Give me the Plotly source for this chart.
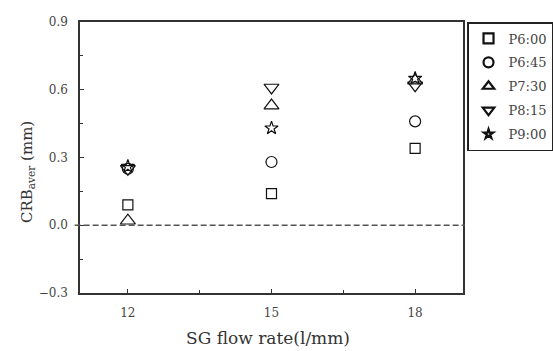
import plotly.graph_objects as go

# SG flow rate (l/mm) and average CRB (mm) for each time point
flow_rate = [12, 15, 18]
series_names = ["P6:00", "P6:45", "P7:30", "P8:15", "P9:00"]
p600 = [0.09, 0.14, 0.34]
p645 = [0.25, 0.28, 0.46]
p730 = [0.02, 0.53, 0.64]
p815 = [0.25, 0.61, 0.62]
p900 = [0.26, 0.43, 0.65]
series_values = [p600, p645, p730, p815, p900]
symbols = ["square-open", "circle-open", "triangle-up-open", "triangle-down-open", "star-open"]
sizes = [10, 11, 13, 13, 10]
legend_sizes = [10, 10, 10, 10, 7]

FONT = "DejaVu Serif"

fig = go.Figure()
for i, (name, vals, sym, sz, lsz) in enumerate(zip(series_names, series_values, symbols, sizes, legend_sizes)):
    fig.add_trace(go.Scatter(
        x=flow_rate, y=vals, mode="markers", name=name, showlegend=False,
        marker=dict(symbol=sym, size=sz, color="#111", line=dict(width=1.2, color="#111")),
    ))
    # legend entry with a heavier outline
    fig.add_trace(go.Scatter(
        x=[None], y=[None], mode="markers", name=name, legendgroup=f"g{i}",
        marker=dict(symbol=sym, size=lsz, color="#111", line=dict(width=2.2, color="#111")),
    ))

# zero reference line
fig.add_shape(type="line", xref="paper", yref="y", x0=-0.014, x1=1.005, y0=0, y1=0,
              line=dict(color="#555", width=1.5, dash="6px,3px"))

axis_common = dict(
    showline=True, linecolor="#333", linewidth=1.5, mirror=True,
    ticks="inside", ticklen=4, tickcolor="#333", showgrid=False, zeroline=False,
    tickfont=dict(family=FONT, size=12, color="#444"),
    ticklabelstandoff=8,
)

fig.update_xaxes(
    range=[11, 19], tickvals=flow_rate, ticktext=[str(v) for v in flow_rate],
    minor=dict(tickvals=[13.5, 16.5], ticks="inside", ticklen=3, tickcolor="#333"),
    **axis_common,
)
fig.update_yaxes(
    range=[-0.3, 0.9], tickvals=[-0.3, 0, 0.3, 0.6, 0.9], tickformat=".1f",
    minor=dict(tickvals=[-0.15, 0.15, 0.45, 0.75], ticks="inside", ticklen=3, tickcolor="#333"),
    **axis_common,
)

# axis titles
fig.add_annotation(text="SG flow rate(l/mm)", xref="paper", yref="paper", x=0.49, y=-0.166,
                   xanchor="center", yanchor="middle", showarrow=False,
                   font=dict(family=FONT, size=17, color="#333"))
fig.add_annotation(text="CRB<sub>aver</sub> (mm)", xref="paper", yref="paper", x=-0.137, y=0.445,
                   xanchor="center", yanchor="middle", showarrow=False, textangle=-90,
                   font=dict(family=FONT, size=15, color="#333"))

fig.update_layout(
    width=553, height=351,
    margin=dict(l=80, r=90, t=22, b=58, autoexpand=False),
    paper_bgcolor="white", plot_bgcolor="white",
    legend=dict(
        x=1.0105, y=1.0, xanchor="left", yanchor="top",
        bordercolor="#222", borderwidth=1.5, bgcolor="white",
        font=dict(family=FONT, size=13, color="#444"),
        itemwidth=30, tracegroupgap=4,
    ),
)

fig.write_html("out.html")
